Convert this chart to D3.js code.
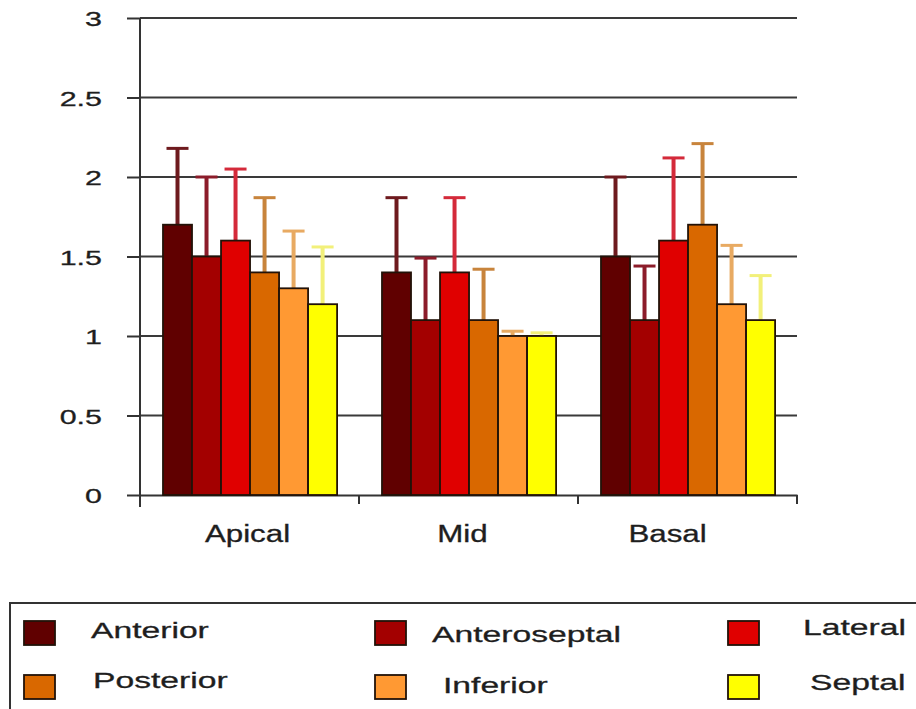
<!DOCTYPE html>
<html>
<head>
<meta charset="utf-8">
<script src="https://cdn.jsdelivr.net/npm/d3@7"></script>
<style>
  html, body { margin: 0; padding: 0; background: #fff; }
  svg { display: block; }
  text { font-family: "Liberation Sans", Arial, sans-serif; fill: #1e1e1e; stroke: #1e1e1e; stroke-width: 0.3px; }
</style>
</head>
<body>
<script>
// Wall-segment scores by ventricular level (mean with upper SD whisker)
const regions = ["Apical", "Mid", "Basal"];
const segments = ["Anterior", "Anteroseptal", "Lateral", "Posterior", "Inferior", "Septal"];
const apicalMeans = [1.7, 1.5, 1.6, 1.4, 1.3, 1.2];
const apicalSD    = [0.48, 0.5, 0.45, 0.47, 0.36, 0.36];
const midMeans    = [1.4, 1.1, 1.4, 1.1, 1.0, 1.0];
const midSD       = [0.47, 0.39, 0.47, 0.32, 0.03, 0.02];
const basalMeans  = [1.5, 1.1, 1.6, 1.7, 1.2, 1.1];
const basalSD     = [0.5, 0.34, 0.52, 0.51, 0.37, 0.28];
const yTicks = [0, 0.5, 1, 1.5, 2, 2.5, 3];

const barColors = ["#600000", "#a30000", "#e00000", "#d96800", "#ff9933", "#ffff00"];
const errColors = ["#6e1a1e", "#8c1c2a", "#d42a3a", "#c8843c", "#e8aa62", "#f2f07a"];

const meansByRegion = [apicalMeans, midMeans, basalMeans];
const sdByRegion = [apicalSD, midSD, basalSD];

const rows = [];
regions.forEach((r, i) => {
  segments.forEach((s, j) => {
    rows.push({ region: r, segment: s, mean: meansByRegion[i][j], sd: sdByRegion[i][j], k: j });
  });
});

const W = 916, H = 709;
const svg = d3.select("body").append("svg").attr("width", W).attr("height", H);

const x = d3.scaleBand().domain(regions).range([140, 797]).padding(0);
const xs = d3.scaleBand().domain(segments)
  .range([x.bandwidth() * 0.105, x.bandwidth() * 0.9]);
const y = d3.scaleLinear().domain([0, 3]).range([495, 18]);

const axisColor = "#333";

// Horizontal gridlines
svg.append("g").selectAll("line").data(yTicks.filter(d => d > 0)).join("line")
  .attr("x1", x.range()[0]).attr("x2", x.range()[1])
  .attr("y1", d => y(d)).attr("y2", d => y(d))
  .attr("stroke", "#3a3a3a").attr("stroke-width", 2);

// Horizontally stretched text helper
function wideText(g, tx, ty, str, size, sx, anchor) {
  return g.append("text")
    .attr("transform", `translate(${tx},${ty}) scale(${sx},1)`)
    .attr("text-anchor", anchor || "start")
    .style("font-size", size + "px")
    .text(str);
}

// Y axis
const yAxis = svg.append("g").attr("transform", "translate(140,0)")
  .call(d3.axisLeft(y).tickValues(yTicks).tickSize(13).tickSizeOuter(0).tickFormat(d3.format("")));
yAxis.select(".domain").remove();
yAxis.selectAll(".tick line").attr("stroke", axisColor).attr("stroke-width", 2);
yAxis.selectAll(".tick text")
  .attr("x", null).attr("dy", "0.37em")
  .attr("transform", "translate(-38,0) scale(1.45,1)")
  .style("font-size", "21px").attr("fill", "#1e1e1e")
  .style("font-family", "'Liberation Sans', Arial, sans-serif");
svg.append("line").attr("x1", 140).attr("x2", 140).attr("y1", y(3)).attr("y2", 507)
  .attr("stroke", axisColor).attr("stroke-width", 2);

// X axis
const xAxis = svg.append("g").attr("transform", `translate(0,${y(0)})`)
  .call(d3.axisBottom(x).tickSize(0).tickSizeOuter(0));
xAxis.select(".domain").attr("stroke", axisColor).attr("stroke-width", 2);
xAxis.selectAll(".tick text").remove();
const bounds = regions.map(r => x(r)).concat([x.range()[1]]);
xAxis.selectAll(".bound").data(bounds).join("line").attr("class", "bound")
  .attr("x1", d => d).attr("x2", d => d).attr("y1", 0).attr("y2", 9)
  .attr("stroke", axisColor).attr("stroke-width", 2);
const xLab = svg.append("g");
const labelShift = [-2, -6, -20];
regions.forEach((r, i) => {
  wideText(xLab, x(r) + x.bandwidth() / 2 + labelShift[i], 542, r, 23, 1.36, "middle");
});

// Error whiskers (upper only)
const capHalf = 11;
const err = svg.append("g");
rows.forEach(d => {
  const cx = x(d.region) + xs(d.segment) + xs.bandwidth() / 2;
  err.append("line")
    .attr("x1", cx).attr("x2", cx).attr("y1", y(d.mean)).attr("y2", y(d.mean + d.sd))
    .attr("stroke", errColors[d.k]).attr("stroke-width", 4);
  err.append("line")
    .attr("x1", cx - capHalf).attr("x2", cx + capHalf)
    .attr("y1", y(d.mean + d.sd)).attr("y2", y(d.mean + d.sd))
    .attr("stroke", errColors[d.k]).attr("stroke-width", 3);
});

// Bars
svg.append("g").selectAll("rect").data(rows).join("rect")
  .attr("x", d => x(d.region) + xs(d.segment))
  .attr("y", d => y(d.mean))
  .attr("width", xs.bandwidth())
  .attr("height", d => y(0) - y(d.mean))
  .attr("fill", d => barColors[d.k])
  .attr("stroke", "#221208").attr("stroke-width", 1.8);

// Legend
const legend = svg.append("g");
legend.append("rect").attr("x", 10).attr("y", 603).attr("width", 920).attr("height", 120)
  .attr("fill", "none").attr("stroke", "#333").attr("stroke-width", 2);
const colSwatchX = [24, 375, 728];
const colTextX = [[91, 93], [432, 443], [803, 810]];
const rowSwatchY = [621, 675];
const rowBaseline = [[638, 688], [642, 693], [635, 690]];
segments.forEach((s, i) => {
  const col = i % 3, row = Math.floor(i / 3);
  legend.append("rect")
    .attr("x", colSwatchX[col]).attr("y", rowSwatchY[row])
    .attr("width", 31).attr("height", 24)
    .attr("fill", barColors[i]).attr("stroke", "#221208").attr("stroke-width", 1.8);
  wideText(legend, colTextX[col][row], rowBaseline[col][row], s, 22, 1.53, "start");
});
</script>
</body>
</html>
